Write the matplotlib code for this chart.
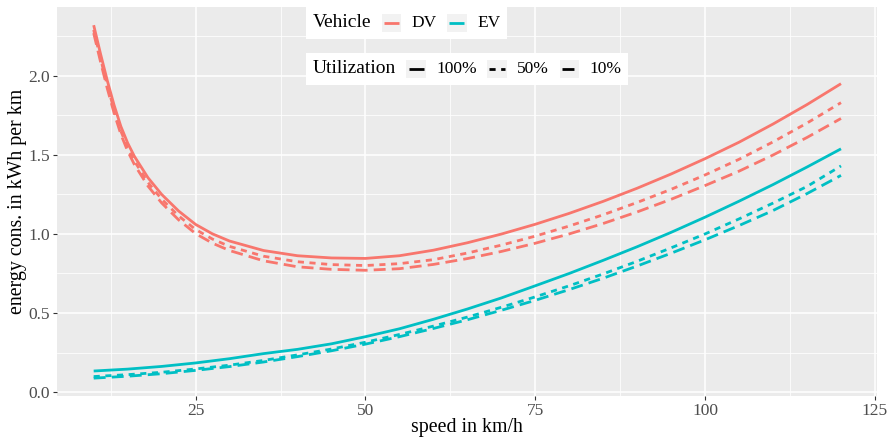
import matplotlib

matplotlib.use("Agg")

import matplotlib.pyplot as plt
from matplotlib.lines import Line2D
from matplotlib.offsetbox import AnchoredOffsetbox, DrawingArea, HPacker, TextArea
from matplotlib.patches import Rectangle
from matplotlib.ticker import MultipleLocator

plt.rcParams["font.family"] = ["Liberation Serif", "DejaVu Serif"]

# speed grid (km/h); diesel curves need finer steps at low speed
dv_speed = [10, 11, 12, 13, 14, 15, 16, 18, 20, 22.5, 25, 27.5, 30, 35, 40, 45,
            50, 55, 60, 65, 70, 75, 80, 85, 90, 95, 100, 105, 110, 115, 120]
ev_speed = [10, 15, 20, 25, 30, 35, 40, 45, 50, 55, 60, 65, 70, 75, 80, 85,
            90, 95, 100, 105, 110, 115, 120]

# energy consumption in kWh per km
dv_100 = [2.32, 2.14, 1.97, 1.815, 1.68, 1.575, 1.49, 1.355, 1.25, 1.145, 1.06,
          1.0, 0.955, 0.895, 0.862, 0.848, 0.845, 0.862, 0.897, 0.944, 0.999,
          1.061, 1.13, 1.206, 1.289, 1.379, 1.476, 1.58, 1.695, 1.818, 1.95]
dv_50 = [2.29, 2.11, 1.94, 1.785, 1.65, 1.545, 1.46, 1.325, 1.22, 1.114, 1.028,
         0.967, 0.921, 0.859, 0.824, 0.806, 0.80, 0.812, 0.837, 0.879, 0.929,
         0.986, 1.05, 1.121, 1.199, 1.282, 1.373, 1.472, 1.582, 1.701, 1.83]
dv_10 = [2.27, 2.09, 1.92, 1.765, 1.63, 1.524, 1.438, 1.302, 1.196, 1.089, 1.002,
         0.941, 0.895, 0.83, 0.792, 0.776, 0.77, 0.78, 0.807, 0.844, 0.889,
         0.941, 1.00, 1.066, 1.139, 1.219, 1.306, 1.397, 1.499, 1.61, 1.73]
ev_100 = [0.133, 0.145, 0.162, 0.184, 0.211, 0.243, 0.27, 0.305, 0.35, 0.40, 0.46,
          0.525, 0.595, 0.672, 0.75, 0.833, 0.919, 1.01, 1.106, 1.207, 1.312,
          1.423, 1.538]
ev_50 = [0.098, 0.11, 0.125, 0.146, 0.17, 0.20, 0.235, 0.272, 0.315, 0.364, 0.417,
         0.474, 0.536, 0.602, 0.672, 0.747, 0.827, 0.912, 1.00, 1.095, 1.195,
         1.30, 1.43]
ev_10 = [0.088, 0.10, 0.116, 0.137, 0.161, 0.19, 0.224, 0.261, 0.303, 0.35, 0.402,
         0.457, 0.517, 0.58, 0.648, 0.72, 0.797, 0.878, 0.963, 1.053, 1.148,
         1.255, 1.37]

vehicles = ["DV", "EV"]
vehicle_colors = {"DV": "#F8766D", "EV": "#00BFC4"}
utilizations = ["100%", "50%", "10%"]
utilization_dashes = {"100%": None, "50%": (2.2, 2.0), "10%": (4.3, 2.2)}

series = [
    ("DV", "100%", dv_speed, dv_100),
    ("DV", "50%", dv_speed, dv_50),
    ("DV", "10%", dv_speed, dv_10),
    ("EV", "100%", ev_speed, ev_100),
    ("EV", "50%", ev_speed, ev_50),
    ("EV", "10%", ev_speed, ev_10),
]

LINE_WIDTH = 2.0


def line_style(color, dashes):
    style = {"color": color, "linewidth": LINE_WIDTH, "solid_capstyle": "butt",
             "dash_capstyle": "butt", "solid_joinstyle": "round"}
    if dashes is not None:
        style["dashes"] = dashes
    return style


def legend_row(title, entries):
    children = [TextArea(title, textprops={"size": 14, "color": "black"})]
    for label, style in entries:
        key = DrawingArea(14, 13)
        key.add_artist(Rectangle((0, 0), 14, 13, facecolor="#F2F2F2", edgecolor="none"))
        key.add_artist(Line2D([1.5, 12.5], [6.5, 6.5], **style))
        children.append(key)
        children.append(TextArea(label, textprops={"size": 12.5, "color": "black"}))
    return HPacker(children=children, align="center", pad=0, sep=7.5)


fig = plt.figure(figsize=(8.88, 4.37), dpi=100)
ax = fig.add_axes([57 / 888, 41 / 437, 820 / 888, 389 / 437])
ax.set_facecolor("#EBEBEB")

for vehicle, util, speed, energy in series:
    ax.plot(speed, energy, **line_style(vehicle_colors[vehicle], utilization_dashes[util]))

ax.set_xlim(4.6, 125.3)
ax.set_ylim(-0.025, 2.435)
ax.xaxis.set_major_locator(MultipleLocator(25))
ax.xaxis.set_minor_locator(MultipleLocator(12.5))
ax.yaxis.set_major_locator(MultipleLocator(0.5))
ax.yaxis.set_minor_locator(MultipleLocator(0.25))
ax.yaxis.set_major_formatter(lambda v, pos: f"{v:.1f}")
ax.grid(which="major", color="white", linewidth=1.1)
ax.grid(which="minor", color="white", linewidth=0.55)
ax.set_axisbelow(True)
for spine in ax.spines.values():
    spine.set_visible(False)
ax.tick_params(which="major", length=3, width=0.8, color="#333333",
               labelcolor="#4D4D4D", labelsize=12.5, pad=2)
ax.tick_params(which="minor", length=0)

ax.set_xlabel("speed in km/h", fontsize=14.3, labelpad=-1)
ax.set_ylabel("energy cons. in kWh per km", fontsize=14.3, labelpad=1)

vehicle_box = AnchoredOffsetbox(
    loc="upper left",
    child=legend_row("Vehicle", [(v, line_style(vehicle_colors[v], None)) for v in vehicles]),
    pad=0.35, borderpad=0, frameon=True, prop={"size": 14},
    bbox_to_anchor=(306 / 888, 1 - 7 / 437), bbox_transform=fig.transFigure,
)
util_box = AnchoredOffsetbox(
    loc="upper left",
    child=legend_row("Utilization", [(u, line_style("black", utilization_dashes[u]))
                                     for u in utilizations]),
    pad=0.35, borderpad=0, frameon=True, prop={"size": 14},
    bbox_to_anchor=(306 / 888, 1 - 53 / 437), bbox_transform=fig.transFigure,
)
for box in (vehicle_box, util_box):
    box.patch.set_facecolor("white")
    box.patch.set_edgecolor("none")
    box.patch.set_boxstyle("square", pad=0)
    ax.add_artist(box)

fig.savefig("out.png", dpi=100)
